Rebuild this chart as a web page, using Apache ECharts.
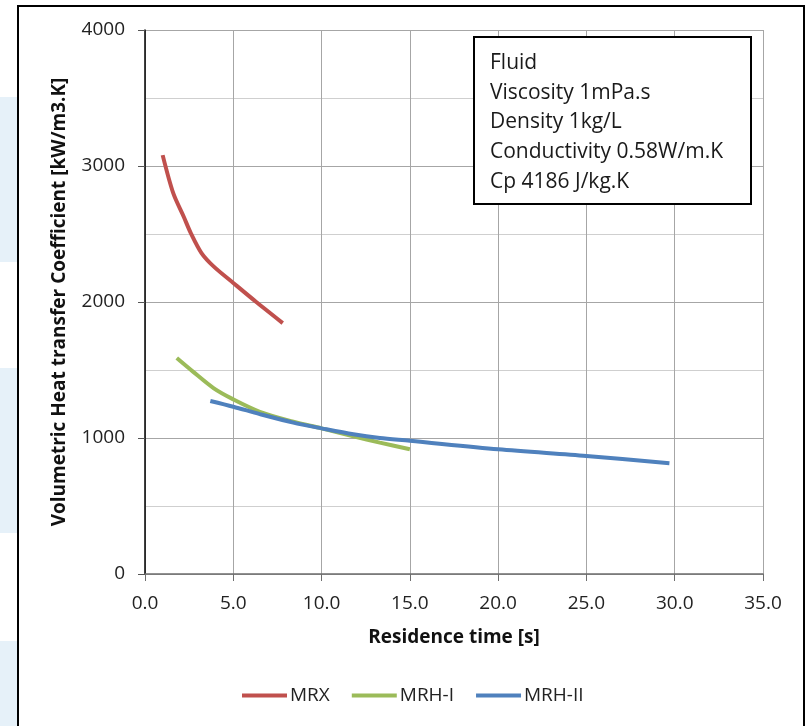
<!DOCTYPE html>
<html>
<head>
<meta charset="utf-8">
<script src="https://cdn.jsdelivr.net/npm/echarts@6/dist/echarts.min.js"></script>
<style>
html,body{margin:0;padding:0;background:#fff;}
#chart{width:809px;height:726px;}
</style>
</head>
<body>
<div id="chart"></div>
<script>
// Data
var seriesNames = ['MRX', 'MRH-I', 'MRH-II'];
var mrxX = [1.0, 1.6, 2.2, 2.6, 3.2, 3.9, 5.0, 6.3, 7.8];
var mrxY = [3080, 2800, 2625, 2505, 2360, 2260, 2140, 2000, 1845];
var mrh1X = [1.8, 2.7, 3.9, 5.0, 6.5, 8.4, 10.0, 11.8, 13.3, 15.0];
var mrh1Y = [1588, 1490, 1365, 1284, 1193, 1120, 1071, 1012, 966, 917];
var mrh2X = [3.7, 5.0, 6.5, 8.4, 10.0, 11.8, 13.3, 15.0, 20.0, 25.0, 29.7];
var mrh2Y = [1272, 1230, 1176, 1113, 1071, 1027, 1000, 980, 917, 868, 814];
var infoLines = ['Fluid', 'Viscosity 1mPa.s', 'Density 1kg/L', 'Conductivity 0.58W/m.K', 'Cp 4186 J/kg.K'];
var xTitle = 'Residence time [s]';
var yTitle = 'Volumetric Heat transfer Coefficient [kW/m3.K]';

function pairs(xs, ys) { return xs.map(function (x, i) { return [x, ys[i]]; }); }

var FONT = '"Open Sans", sans-serif';
var colors = ['#C0504D', '#9BBB59', '#4F81BD'];

var chart = echarts.init(document.getElementById('chart'), null, {renderer: 'canvas'});
chart.setOption({
  animation: false,
  backgroundColor: '#ffffff',
  color: colors,
  textStyle: {fontFamily: FONT},
  graphic: [
    {type: 'rect', shape: {x: 0, y: 97, width: 17, height: 165}, style: {fill: '#e6f1f9'}, silent: true},
    {type: 'rect', shape: {x: 0, y: 368, width: 17, height: 165}, style: {fill: '#e6f1f9'}, silent: true},
    {type: 'rect', shape: {x: 0, y: 641, width: 17, height: 90}, style: {fill: '#e6f1f9'}, silent: true},
    {type: 'rect', shape: {x: 18, y: 6, width: 786, height: 730}, style: {fill: 'none', stroke: '#000', lineWidth: 2}, silent: true, z: 0},
    {type: 'rect', z: 100, zlevel: 1, shape: {x: 474, y: 37, width: 277, height: 167}, style: {fill: '#fff', stroke: '#000', lineWidth: 2}},
    {type: 'text', z: 101, zlevel: 1, x: 490, y: 48, style: {text: infoLines.join('\n'), font: '21px ' + FONT, lineHeight: 29.8, fill: '#1a1a1a'}}
  ],
  grid: {left: 145, top: 30, right: 46, bottom: 152, containLabel: false},
  legend: {
    data: seriesNames,
    left: 237, top: 681,
    icon: 'rect', itemWidth: 45, itemHeight: 4, itemGap: 22,
    textStyle: {fontFamily: FONT, fontSize: 19, color: '#222', padding: [0, 0, 0, -2]}
  },
  xAxis: {
    type: 'value', min: 0, max: 35, interval: 5,
    name: xTitle, nameLocation: 'middle', nameGap: 54,
    nameTextStyle: {fontFamily: FONT, fontSize: 19, fontWeight: 'bold', color: '#111'},
    axisLine: {show: true, onZero: false, lineStyle: {color: '#6e6e6e', width: 1.5}},
    axisTick: {show: true, inside: false, length: 7, lineStyle: {color: '#6e6e6e'}},
    axisLabel: {margin: 20, fontSize: 19, color: '#222', fontFamily: FONT, formatter: function (v) { return v.toFixed(1); }},
    splitLine: {show: true, lineStyle: {color: '#a6a6a6', width: 1}}
  },
  yAxis: {
    type: 'value', min: 0, max: 4000, interval: 1000,
    name: yTitle, nameLocation: 'middle', nameGap: 76,
    nameTextStyle: {fontFamily: FONT, fontSize: 19, fontWeight: 'bold', color: '#111'},
    axisLine: {show: true, onZero: false, lineStyle: {color: '#000', width: 1.5}},
    axisTick: {show: true, inside: false, length: 7, lineStyle: {color: '#555'}},
    axisLabel: {margin: 20, fontSize: 19, color: '#222', fontFamily: FONT, formatter: function (v) { return String(v); }},
    splitLine: {show: true, lineStyle: {color: '#a6a6a6', width: 1}},
    minorTick: {show: false, splitNumber: 2},
    minorSplitLine: {show: true, lineStyle: {color: '#cfcfcf', width: 1}}
  },
  series: [
    {name: seriesNames[0], type: 'line', data: pairs(mrxX, mrxY), smooth: 0.3, symbol: 'none', lineStyle: {width: 4, color: colors[0]}, z: 3},
    {name: seriesNames[1], type: 'line', data: pairs(mrh1X, mrh1Y), smooth: 0.3, symbol: 'none', lineStyle: {width: 4, color: colors[1]}, z: 3},
    {name: seriesNames[2], type: 'line', data: pairs(mrh2X, mrh2Y), smooth: 0.3, symbol: 'none', lineStyle: {width: 4, color: colors[2]}, z: 4}
  ]
});
</script>
</body>
</html>
